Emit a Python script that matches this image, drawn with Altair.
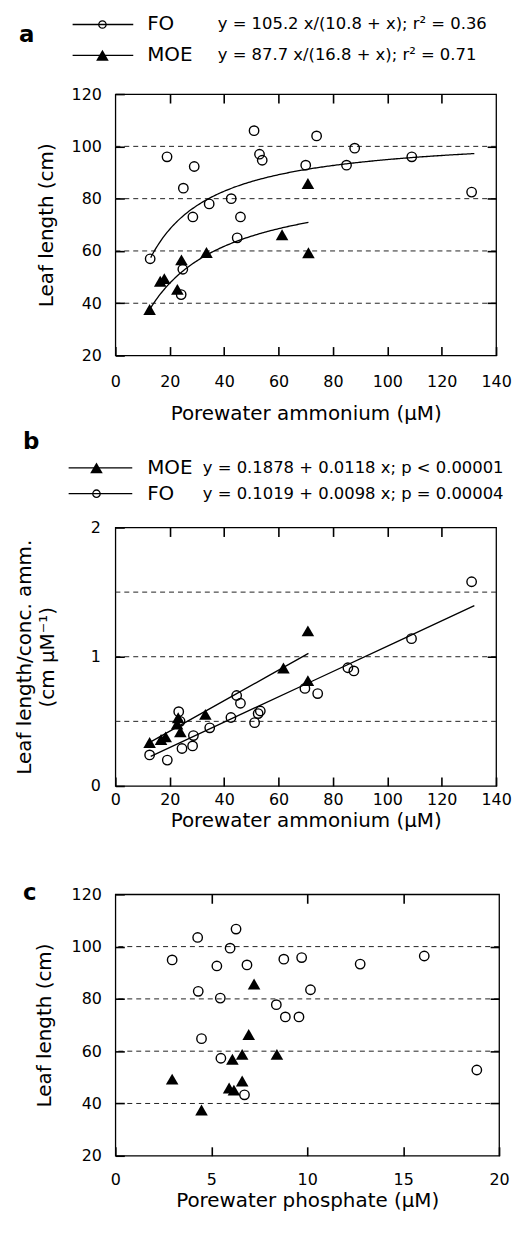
import altair as alt
import pandas as pd

FONT = "DejaVu Sans"
INK = "black"

series_names = ["FO", "MOE"]

# ---------------- panel a : leaf length vs porewater ammonium ----------------
a_fo_x = [19, 25, 29, 51, 53, 54, 74, 70, 88, 85, 109, 131, 28.5, 34.5, 42.6, 46, 44.8, 12.8, 24.8, 24.2]
a_fo_y = [96, 84, 92.3, 106, 97, 94.7, 104, 92.8, 99.3, 92.8, 96, 82.5, 73, 78, 80, 73, 65, 57, 53, 43.3]
a_moe_x = [70.8, 61.3, 71, 33.5, 24.3, 16.5, 18, 22.8, 12.6]
a_moe_y = [85.8, 66.2, 59.3, 59.4, 56.6, 48.4, 49.4, 45.3, 37.6]
a_fit_vmax = [105.2, 87.7]      # FO, MOE
a_fit_k = [10.8, 16.8]
a_fit_xmin = [13, 13]
a_fit_xmax = [132, 71]
a_equations = ["y = 105.2 x/(10.8 + x); r² = 0.36", "y = 87.7 x/(16.8 + x); r² = 0.71"]

# ---------------- panel b : leaf length / conc. vs porewater ammonium ----------------
b_fo_x = [12.6, 19.1, 23.3, 23.8, 24.5, 28.4, 28.7, 34.7, 42.5, 44.6, 46, 51.2, 52.5, 53.3, 69.7, 74.4, 85.5, 87.7, 108.9, 131]
b_fo_y = [0.24, 0.20, 0.575, 0.50, 0.29, 0.31, 0.39, 0.45, 0.53, 0.70, 0.64, 0.49, 0.56, 0.58, 0.755, 0.715, 0.915, 0.89, 1.14, 1.58]
b_moe_x = [12.6, 16.8, 18.5, 22.7, 23.1, 23.9, 33.1, 61.8, 70.8, 70.8]
b_moe_y = [0.336, 0.36, 0.38, 0.48, 0.528, 0.42, 0.554, 0.913, 1.20, 0.815]
b_fit_int = [0.1019, 0.1878]    # FO, MOE
b_fit_slope = [0.0098, 0.0118]
b_fit_xmin = [13, 12]
b_fit_xmax = [132, 71]
b_equations = ["y = 0.1019 + 0.0098 x; p = 0.00004", "y = 0.1878 + 0.0118 x; p < 0.00001"]

# ---------------- panel c : leaf length vs porewater phosphate ----------------
c_fo_x = [2.96, 4.29, 6.29, 5.98, 5.29, 6.86, 8.78, 9.71, 12.76, 16.1, 4.32, 5.47, 10.17, 8.39, 8.86, 9.57, 4.49, 5.5, 6.73, 18.84]
c_fo_y = [94.9, 103.5, 106.7, 99.4, 92.6, 93.0, 95.2, 95.8, 93.3, 96.4, 82.9, 80.3, 83.5, 77.8, 73.1, 73.1, 64.8, 57.3, 43.3, 52.8]
c_moe_x = [7.23, 6.95, 6.61, 6.1, 8.42, 2.96, 6.61, 5.93, 6.18, 4.49]
c_moe_y = [85.7, 66.4, 58.8, 56.9, 58.8, 49.3, 48.6, 45.9, 45.1, 37.5]

# ---------------- axes ----------------
x_ticks_amm = [0, 20, 40, 60, 80, 100, 120, 140]
x_inner_amm = [20, 40, 60, 80, 100, 120]
x_ticks_phos = [0, 5, 10, 15, 20]
x_inner_phos = [5, 10, 15]
y_ticks_leaf = [20, 40, 60, 80, 100, 120]
y_ticks_ratio = [0, 1, 2]
grid_leaf = [40, 60, 80, 100]
grid_ratio = [0.5, 1, 1.5]
side_ticks_ratio = [1]

x_title_amm = "Porewater ammonium (µM)"
x_title_phos = "Porewater phosphate (µM)"
y_title_leaf = "Leaf length (cm)"
y_title_ratio = ["Leaf length/conc. amm.", "(cm µM⁻¹)"]
panel_letters = ["a", "b", "c"]

TICK = dict(ticks=True, tickSize=9, offset=-9, tickColor=INK, tickWidth=1.6, tickOpacity=1,
            domain=False, grid=False, labelOverlap=False, labelFlush=False, zindex=1)


def one(**kw):
    return alt.Chart(pd.DataFrame({k: [v] for k, v in kw.items()}))


def panel(w, h, xdom, ydom, xvals, xinner, yvals, grid_vals, side_vals,
          xtitle, ytitle, lpx, lpy, tty, ttx, spacer, pts_x, pts_y, extra):
    xs = alt.Scale(domain=xdom, nice=False, zero=False)
    ys = alt.Scale(domain=ydom, nice=False, zero=False)
    xa = alt.Axis(orient="bottom", values=xvals, title=xtitle, labelPadding=lpx,
                  titleY=tty + 9, titleBaseline="middle", format=".0f", **TICK)
    ya = alt.Axis(orient="left", values=yvals, title=ytitle, labelPadding=lpy,
                  titleX=ttx - 9, titleY=h / 2, titleBaseline="middle",
                  titleLineHeight=23, format=".0f", **TICK)
    xt = alt.Axis(orient="top", values=xinner, labels=False, title=None, **TICK)
    yr = alt.Axis(orient="right", values=side_vals, labels=False, title=None, **TICK)

    def X(axis=None):
        return alt.X("x:Q", scale=xs, axis=axis)

    def Y(axis=None):
        return alt.Y("y:Q", scale=ys, axis=axis)

    ref = pd.DataFrame({"x": pts_x, "y": pts_y})
    layers = [
        alt.Chart(pd.DataFrame({"y": grid_vals})).mark_rule(
            color="#222", strokeWidth=1, strokeDash=[5, 4]).encode(y=Y()),
        alt.Chart(ref).mark_point(opacity=0).encode(x=X(xa), y=Y(ya)),
        alt.Chart(ref).mark_point(opacity=0).encode(x=X(xt), y=Y(yr)),
    ]
    layers += extra(X, Y)
    sx, sy0, sy1 = spacer
    layers.append(one(s=0).mark_rule(opacity=0, strokeOpacity=0).encode(
        x=alt.value(sx), x2=alt.value(sx), y=alt.value(sy0), y2=alt.value(sy1)))
    return alt.layer(*layers).resolve_axis(x="independent", y="independent").properties(
        width=w, height=h)


def scatter(X, Y, xs_, ys_, circle):
    d = pd.DataFrame({"x": xs_, "y": ys_})
    if circle:
        m = alt.Chart(d).mark_point(shape="circle", filled=False, size=90,
                                    strokeWidth=1.4, color=INK, opacity=1)
    else:
        m = alt.Chart(d).mark_point(shape="triangle-up", filled=True, size=160,
                                    color=INK, opacity=1, strokeWidth=0)
    return m.encode(x=X(), y=Y())


def legend_row(name, eq, circle, y, x0, x1, xsym, xl, xe):
    base = one(name=name, eq=eq)
    out = [base.mark_rule(color=INK, strokeWidth=1.3).encode(
        x=alt.value(x0), x2=alt.value(x1), y=alt.value(y))]
    if circle:
        out.append(base.mark_point(shape="circle", filled=False, size=55, strokeWidth=1.3,
                                   color=INK, opacity=1).encode(x=alt.value(xsym), y=alt.value(y)))
    else:
        out.append(base.mark_point(shape="triangle-up", filled=True, size=160, strokeWidth=0,
                                   color=INK, opacity=1).encode(x=alt.value(xsym), y=alt.value(y)))
    out.append(base.mark_text(align="left", baseline="middle", font=FONT, fontSize=20,
                              color=INK).encode(x=alt.value(xl), y=alt.value(y), text="name:N"))
    out.append(base.mark_text(align="left", baseline="middle", font=FONT, fontSize=16.5,
                              color=INK).encode(x=alt.value(xe), y=alt.value(y), text="eq:N"))
    return out


def letter(txt, x, y):
    return one(t=txt).mark_text(align="left", baseline="alphabetic", font=FONT,
                                fontSize=23, fontWeight="bold", color=INK).encode(
        x=alt.value(x), y=alt.value(y), text="t:N")


def fit_mm(X, Y, vmax, k, x0, x1):
    return alt.Chart(alt.sequence(x0, x1 + 0.01, 0.5, as_="x")).transform_calculate(
        y=f"{vmax} * datum.x / ({k} + datum.x)").mark_line(
        color=INK, strokeWidth=1.3).encode(x=X(), y=Y())


def fit_lin(X, Y, a, b, x0, x1):
    return alt.Chart(alt.sequence(x0, x1 + 0.01, (x1 - x0) / 4, as_="x")).transform_calculate(
        y=f"{a} + {b} * datum.x").mark_line(
        color=INK, strokeWidth=1.3).encode(x=X(), y=Y())


def extra_a(X, Y):
    out = [fit_mm(X, Y, a_fit_vmax[i], a_fit_k[i], a_fit_xmin[i], a_fit_xmax[i]) for i in range(2)]
    out.append(scatter(X, Y, a_fo_x, a_fo_y, True))
    out.append(scatter(X, Y, a_moe_x, a_moe_y, False))
    out.append(letter(panel_letters[0], -97, -52))
    out += legend_row(series_names[0], a_equations[0], True, -70, -43, 18, -13, 32, 103)
    out += legend_row(series_names[1], a_equations[1], False, -39, -43, 18, -13, 32, 103)
    return out


def extra_b(X, Y):
    out = [fit_lin(X, Y, b_fit_int[i], b_fit_slope[i], b_fit_xmin[i], b_fit_xmax[i]) for i in range(2)]
    out.append(scatter(X, Y, b_fo_x, b_fo_y, True))
    out.append(scatter(X, Y, b_moe_x, b_moe_y, False))
    out.append(letter(panel_letters[1], -93, -79))
    out += legend_row(series_names[1], b_equations[1], False, -60, -47, 17, -19, 32, 88)
    out += legend_row(series_names[0], b_equations[0], True, -34, -47, 17, -19, 32, 88)
    return out


def extra_c(X, Y):
    out = [scatter(X, Y, c_fo_x, c_fo_y, True), scatter(X, Y, c_moe_x, c_moe_y, False)]
    out.append(letter(panel_letters[2], -93, 6))
    return out


pa = panel(383, 263, [0, 140], [20, 120], x_ticks_amm, x_inner_amm, y_ticks_leaf, grid_leaf,
           grid_leaf, x_title_amm, y_title_leaf, 18, 14, 58, -69, (-107, -82, 334),
           a_fo_x, a_fo_y, extra_a)
pb = panel(383, 260, [0, 140], [0, 2], x_ticks_amm, x_inner_amm, y_ticks_ratio, grid_ratio,
           side_ticks_ratio, x_title_amm, y_title_ratio, 6, 15, 35, -91, (-107, -100, 328),
           b_fo_x, b_fo_y, extra_b)
pc = panel(386, 263, [0, 20], [20, 120], x_ticks_phos, x_inner_phos, y_ticks_leaf, grid_leaf,
           grid_leaf, x_title_phos, y_title_leaf, 16, 14, 45, -71, (-107, -39, 200),
           c_fo_x, c_fo_y, extra_c)

chart = alt.vconcat(pa, pb, pc, spacing=0).properties(
    padding=0, background="white"
).configure_view(
    stroke=INK, strokeWidth=1.3
).configure_axis(
    labelFont=FONT, labelFontSize=16, labelColor=INK,
    titleFont=FONT, titleFontSize=20, titleFontWeight="normal", titleColor=INK
)

chart.save("out.html", embed_options={"renderer": "svg", "actions": False})
